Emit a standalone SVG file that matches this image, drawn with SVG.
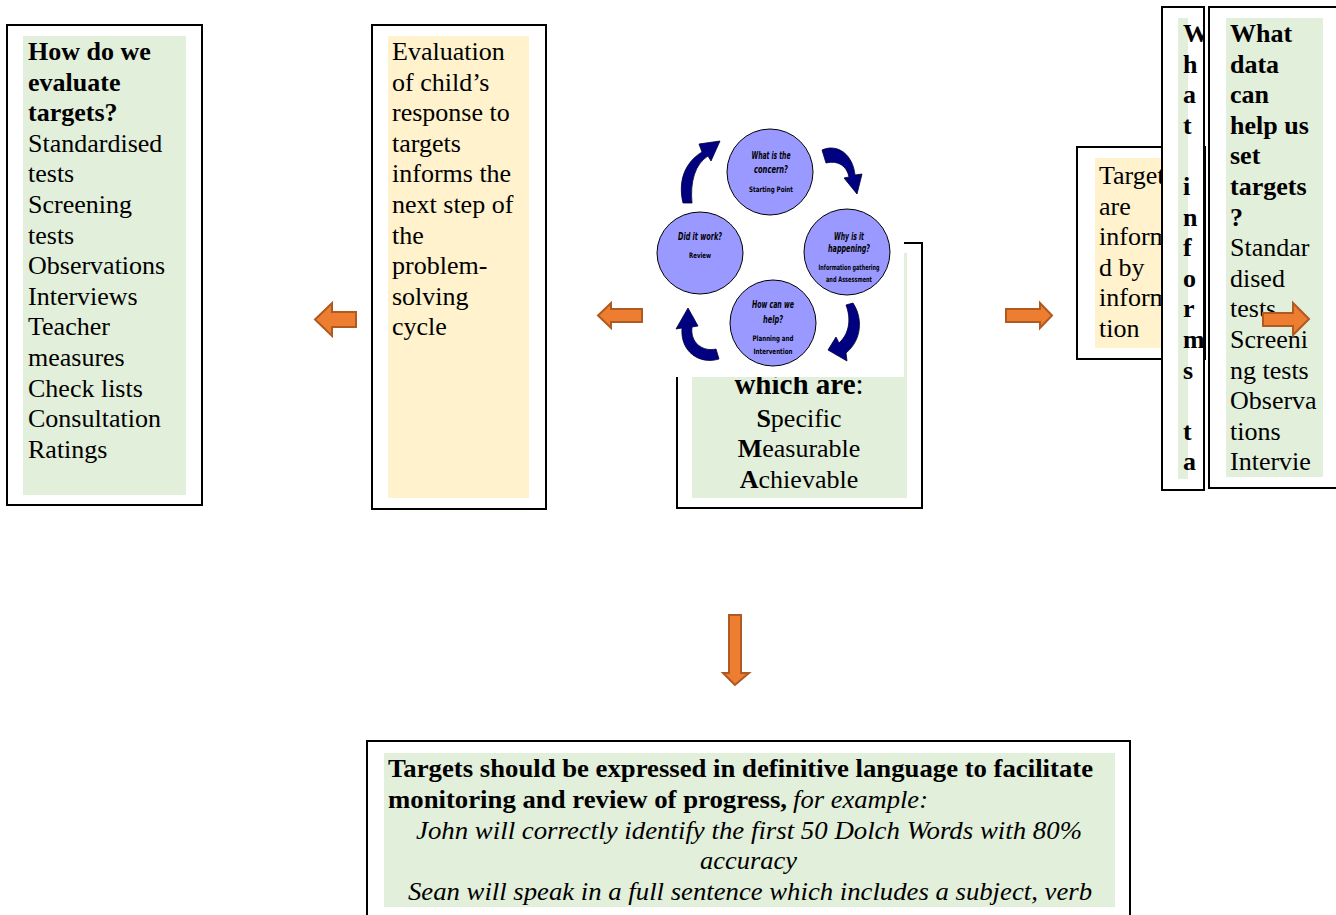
<svg xmlns="http://www.w3.org/2000/svg" width="1336" height="915" viewBox="0 0 1336 915">
<defs>
<style>
.box{fill:#fff;stroke:#000;stroke-width:2}
.green{fill:#E2EFDA}
.yellow{fill:#FFF2CC}
.t{font-family:'Liberation Serif','Times New Roman',serif;font-size:26px;fill:#000}
.b{font-weight:bold}
.i{font-style:italic}
.oa{fill:#ED7D31;stroke:#AE5A21;stroke-width:2;stroke-linejoin:miter}
.circ{fill:#9999FF;stroke:#000;stroke-width:1}
.cq{font-family:'Liberation Sans Narrow','DejaVu Sans Condensed','Liberation Sans',sans-serif;font-size:10px;font-weight:bold;font-style:italic;fill:#000;text-anchor:middle}
.cs{font-family:'Liberation Sans Narrow','DejaVu Sans Condensed','Liberation Sans',sans-serif;font-size:7.5px;font-weight:bold;fill:#000;text-anchor:middle}
.ca{fill:#000080;stroke:#000033;stroke-width:0.8}
.mid{text-anchor:middle}
</style>
<clipPath id="clipV"><rect x="1163" y="8" width="40.5" height="481"/></clipPath>
<clipPath id="clipR"><rect x="1210" y="8" width="126" height="479"/></clipPath>
</defs>
<rect width="1336" height="915" fill="#fff"/>

<g id="node-evaluate">
<rect class="box" x="7" y="25" width="195" height="480"/>
<rect class="green" x="23" y="36" width="163" height="459"/>
<text class="t" x="28" y="60"><tspan class="b">How do we</tspan><tspan class="b" x="28" dy="30.6">evaluate</tspan><tspan class="b" x="28" dy="30.6">targets?</tspan><tspan x="28" dy="30.6">Standardised</tspan><tspan x="28" dy="30.6">tests</tspan><tspan x="28" dy="30.6">Screening</tspan><tspan x="28" dy="30.6">tests</tspan><tspan x="28" dy="30.6">Observations</tspan><tspan x="28" dy="30.6">Interviews</tspan><tspan x="28" dy="30.6">Teacher</tspan><tspan x="28" dy="30.6">measures</tspan><tspan x="28" dy="30.6">Check lists</tspan><tspan x="28" dy="30.6">Consultation</tspan><tspan x="28" dy="30.6">Ratings</tspan></text>
</g>

<g id="node-evaluation-response">
<rect class="box" x="372" y="25" width="174" height="484"/>
<rect class="yellow" x="388" y="36" width="141" height="462"/>
<text class="t" x="392" y="60"><tspan>Evaluation</tspan><tspan x="392" dy="30.6">of child’s</tspan><tspan x="392" dy="30.6">response to</tspan><tspan x="392" dy="30.6">targets</tspan><tspan x="392" dy="30.6">informs the</tspan><tspan x="392" dy="30.6">next step of</tspan><tspan x="392" dy="30.6">the</tspan><tspan x="392" dy="30.6">problem-</tspan><tspan x="392" dy="30.6">solving</tspan><tspan x="392" dy="30.6">cycle</tspan></text>
</g>

<g id="node-smart">
<rect class="box" x="677" y="243" width="245" height="265"/>
<rect class="green" x="692" y="253" width="215" height="245"/>
<text class="t mid" x="799" y="394" style="font-size:29px"><tspan class="b">which are</tspan><tspan>:</tspan></text>
<text class="t mid" x="799" y="427"><tspan class="b">S</tspan>pecific</text>
<text class="t mid" x="799" y="457"><tspan class="b">M</tspan>easurable</text>
<text class="t mid" x="799" y="488"><tspan class="b">A</tspan>chievable</text>
</g>

<g id="node-cycle">
<rect x="643" y="118" width="261" height="259" fill="#fff"/>
<circle class="circ" cx="770" cy="172" r="43"/>
<circle class="circ" cx="847" cy="252" r="43"/>
<circle class="circ" cx="773" cy="323" r="43"/>
<ellipse class="circ" cx="700" cy="253" rx="43" ry="41"/>
<text class="cq" x="771" y="158.5" textLength="39" lengthAdjust="spacingAndGlyphs">What is the</text>
<text class="cq" x="771" y="173" textLength="34" lengthAdjust="spacingAndGlyphs">concern?</text>
<text class="cs" x="771" y="192" textLength="44" lengthAdjust="spacingAndGlyphs">Starting Point</text>
<text class="cq" x="849" y="240" textLength="30" lengthAdjust="spacingAndGlyphs">Why is it</text>
<text class="cq" x="849" y="252" textLength="42" lengthAdjust="spacingAndGlyphs">happening?</text>
<text class="cs" x="849" y="269.5" textLength="61" lengthAdjust="spacingAndGlyphs">Information gathering</text>
<text class="cs" x="849" y="282" textLength="46" lengthAdjust="spacingAndGlyphs">and Assessment</text>
<text class="cq" x="773" y="307.5" textLength="42" lengthAdjust="spacingAndGlyphs">How can we</text>
<text class="cq" x="773" y="322.5" textLength="20" lengthAdjust="spacingAndGlyphs">help?</text>
<text class="cs" x="773" y="341" textLength="41" lengthAdjust="spacingAndGlyphs">Planning and</text>
<text class="cs" x="773" y="353.5" textLength="39" lengthAdjust="spacingAndGlyphs">Intervention</text>
<text class="cq" x="700" y="239.5" textLength="44" lengthAdjust="spacingAndGlyphs">Did it work?</text>
<text class="cs" x="700" y="258" textLength="22" lengthAdjust="spacingAndGlyphs">Review</text>
<path class="ca" d="M683,203 C678,182 684,163 702,152 L699,144 L720,141 L711,161 L708,156 C695,164 690,182 692,203 Z"/>
<path class="ca" d="M822,150 C838,143 853,155 855,175 L862,174 L857,194 L844,178 L849,177 C847,166 838,160 826,163 Z"/>
<path class="ca" d="M853,303 C863,318 862,340 846,353 L847,361 L828,350 L836,337 L839,343 C850,333 851,318 846,305 Z"/>
<path class="ca" d="M719,359 C700,365 680,352 682,328 L676,329 L688,308 L698,326 L692,327 C690,343 703,352 716,349 Z"/>
</g>

<g id="node-targets-informed">
<rect class="box" x="1077" y="147" width="128" height="212"/>
<rect class="yellow" x="1095" y="158" width="70" height="190"/>
<text class="t" x="1099" y="184"><tspan>Targets</tspan><tspan x="1099" dy="30.6">are</tspan><tspan x="1099" dy="30.6">informe</tspan><tspan x="1099" dy="30.6">d by</tspan><tspan x="1099" dy="30.6">informa</tspan><tspan x="1099" dy="30.6">tion</tspan></text>
</g>

<g id="node-what-informs">
<rect class="box" x="1162" y="7" width="42" height="483"/>
<g clip-path="url(#clipV)">
<rect class="green" x="1178" y="18" width="10" height="461"/>
<text class="t b" x="1183" y="42"><tspan>W</tspan><tspan x="1183" dy="30.6">h</tspan><tspan x="1183" dy="30.6">a</tspan><tspan x="1183" dy="30.6">t</tspan><tspan x="1183" dy="61.2">i</tspan><tspan x="1183" dy="30.6">n</tspan><tspan x="1183" dy="30.6">f</tspan><tspan x="1183" dy="30.6">o</tspan><tspan x="1183" dy="30.6">r</tspan><tspan x="1183" dy="30.6">m</tspan><tspan x="1183" dy="30.6">s</tspan><tspan x="1183" dy="61.2">t</tspan><tspan x="1183" dy="30.6">a</tspan></text>
</g>
</g>

<g id="node-what-data">
<rect class="box" x="1209" y="7" width="140" height="481"/>
<g clip-path="url(#clipR)">
<rect class="green" x="1226" y="18" width="97" height="459"/>
<text class="t" x="1230" y="42"><tspan class="b">What</tspan><tspan class="b" x="1230" dy="30.6">data</tspan><tspan class="b" x="1230" dy="30.6">can</tspan><tspan class="b" x="1230" dy="30.6">help us</tspan><tspan class="b" x="1230" dy="30.6">set</tspan><tspan class="b" x="1230" dy="30.6">targets</tspan><tspan class="b" x="1230" dy="30.6">?</tspan><tspan x="1230" dy="30.6">Standar</tspan><tspan x="1230" dy="30.6">dised</tspan><tspan x="1230" dy="30.6">tests</tspan><tspan x="1230" dy="30.6">Screeni</tspan><tspan x="1230" dy="30.6">ng tests</tspan><tspan x="1230" dy="30.6">Observa</tspan><tspan x="1230" dy="30.6">tions</tspan><tspan x="1230" dy="30.6">Intervie</tspan></text>
</g>
</g>

<g id="node-definitive">
<rect class="box" x="367" y="741" width="763" height="200"/>
<rect class="green" x="384" y="753" width="731" height="154"/>
<text class="t b" x="388" y="777" textLength="705" lengthAdjust="spacingAndGlyphs">Targets should be expressed in definitive language to facilitate</text>
<text class="t b" x="388" y="808" textLength="399" lengthAdjust="spacingAndGlyphs">monitoring and review of progress,</text>
<text class="t i" x="793" y="808" textLength="135" lengthAdjust="spacingAndGlyphs">for example:</text>
<text class="t i" x="416" y="839" textLength="666" lengthAdjust="spacingAndGlyphs">John will correctly identify the first 50 Dolch Words with 80%</text>
<text class="t i" x="700" y="869" textLength="97" lengthAdjust="spacingAndGlyphs">accuracy</text>
<text class="t i" x="408" y="900" textLength="684" lengthAdjust="spacingAndGlyphs">Sean will speak in a full sentence which includes a subject, verb</text>
</g>

<g id="connectors">
<path class="oa" d="M315,319.5 L332,303 L332,312 L356,312 L356,327 L332,327 L332,336 Z"/>
<path class="oa" d="M598,315.5 L611,303 L611,309 L642,309 L642,322 L611,322 L611,328 Z"/>
<path class="oa" d="M1052,315.5 L1040,303 L1040,309 L1006,309 L1006,322 L1040,322 L1040,328 Z"/>
<path class="oa" d="M1309,319 L1293,303 L1293,313 L1263,313 L1263,326 L1293,326 L1293,335 Z"/>
<path class="oa" d="M735,685 L723,673 L729,673 L729,615 L741,615 L741,673 L749,673 Z"/>
</g>
</svg>
